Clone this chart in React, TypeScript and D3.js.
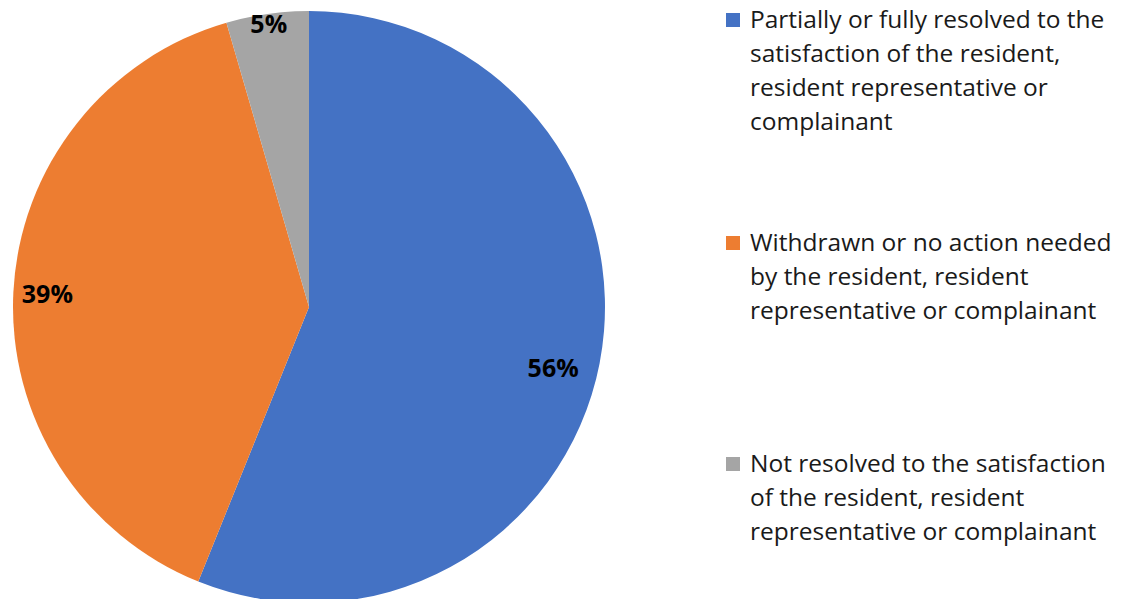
import React, { useRef, useEffect } from 'react';
import * as d3 from 'd3';

// shares of complaint outcomes (percent)
const categories = [
  'Partially or fully resolved to the satisfaction of the resident, resident representative or complainant',
  'Withdrawn or no action needed by the resident, resident representative or complainant',
  'Not resolved to the satisfaction of the resident, resident representative or complainant',
];
const values = [56.1, 39.4, 4.5];
const legendLines = [
  ['Partially or fully resolved to the', 'satisfaction of the resident,', 'resident representative or', 'complainant'],
  ['Withdrawn or no action needed', 'by the resident, resident', 'representative or complainant'],
  ['Not resolved to the satisfaction', 'of the resident, resident', 'representative or complainant'],
];
const colors = ['#4472C4', '#ED7D31', '#A5A5A5'];

const WIDTH = 1121;
const HEIGHT = 599;
const FONT = '"Open Sans", "Noto Sans", sans-serif';

function PieChart() {
  const svgRef = useRef<SVGSVGElement | null>(null);

  useEffect(() => {
    const svg = d3.select(svgRef.current);
    svg.selectAll('*').remove();

    const cx = 309;
    const cy = 307;
    const radius = 296;
    // label placement: fraction of radius and a small angular nudge (degrees)
    const labelFrac = [0.85, 0.885, 0.965];
    const labelNudge = [3, 0, 0];

    const data = categories.map((name, i) => ({ name, value: values[i], index: i }));

    const pie = d3
      .pie<{ name: string; value: number; index: number }>()
      .value((d) => d.value)
      .sort(null);
    const arcs = pie(data);

    const arc = d3
      .arc<d3.PieArcDatum<{ name: string; value: number; index: number }>>()
      .innerRadius(0)
      .outerRadius(radius);

    const g = svg.append('g').attr('transform', `translate(${cx},${cy})`);

    g.selectAll('path')
      .data(arcs)
      .join('path')
      .attr('d', (d) => arc(d))
      .attr('fill', (d) => colors[d.data.index]);

    g.selectAll('text.label')
      .data(arcs)
      .join('text')
      .attr('class', 'label')
      .attr('transform', (d) => {
        const i = d.data.index;
        const r = radius * labelFrac[i];
        const a = (d.startAngle + d.endAngle) / 2 + (labelNudge[i] * Math.PI) / 180;
        return `translate(${r * Math.sin(a)},${-r * Math.cos(a)})`;
      })
      .attr('text-anchor', 'middle')
      .attr('dy', '0.36em')
      .attr('font-family', FONT)
      .attr('font-weight', 'bold')
      .attr('font-size', 25)
      .attr('fill', '#000')
      .text((d) => `${Math.round(d.data.value)}%`);

    // legend on the right
    const legendTop = [28, 251, 472];
    const lineH = 34;
    const legend = svg
      .selectAll('g.legend')
      .data(legendLines)
      .join('g')
      .attr('class', 'legend')
      .attr('transform', (_, i) => `translate(726,${legendTop[i]})`);

    legend
      .append('rect')
      .attr('x', 0)
      .attr('y', -15)
      .attr('width', 14)
      .attr('height', 14)
      .attr('fill', (_, i) => colors[i]);

    legend
      .append('text')
      .attr('font-family', FONT)
      .attr('font-size', 24.5)
      .attr('fill', '#1a1a1a')
      .selectAll('tspan')
      .data((d) => d)
      .join('tspan')
      .attr('x', 24)
      .attr('y', (_, j) => j * lineH)
      .text((d) => d);
  }, []);

  return (
    <svg
      ref={svgRef}
      width={WIDTH}
      height={HEIGHT}
      style={{ position: 'absolute', left: 0, top: 0, background: '#fff' }}
    ></svg>
  );
}

export default function App() {
  return <PieChart />;
}
